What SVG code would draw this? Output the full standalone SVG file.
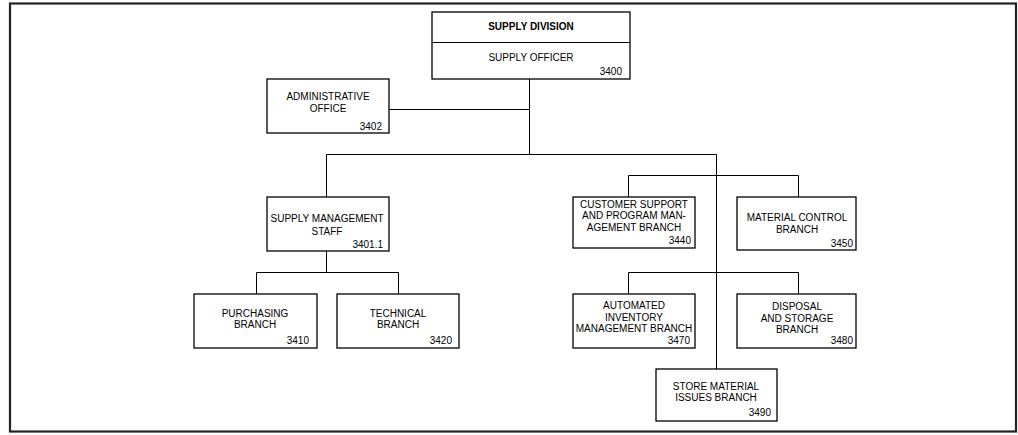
<svg xmlns="http://www.w3.org/2000/svg" width="1018" height="435" viewBox="0 0 1018 435">
<style>
.box{fill:#fff;stroke:#000;stroke-width:1.3}
.ln{fill:none;stroke:#000;stroke-width:1}
text{font-family:"Liberation Sans",Arial,sans-serif;font-size:10px;fill:#000}
.c{text-anchor:middle}
.r{text-anchor:end}
.b{font-weight:bold}
</style>
<rect x="0" y="0" width="1018" height="435" fill="#fff"/>
<rect x="10" y="3.5" width="1006" height="428" fill="none" stroke="#222" stroke-width="2.2"/>
<g id="connectors">
<path class="ln" d="M529.5 79V154.5M389 109.5H529.5M326.5 154.5H716.5M326.5 154.5V197M716.5 154.5V369M628.5 175.5H798.5M628.5 175.5V197M798.5 175.5V197M326.5 251V272.5M256.5 272.5H398.5M256.5 272.5V294M398.5 272.5V294M628.5 272.5H798.5M628.5 272.5V294M798.5 272.5V294"/>
</g>
<g id="supply-division">
<rect class="box" x="432" y="12" width="198" height="67"/>
<line class="ln" x1="432" y1="42.5" x2="630" y2="42.5" stroke-width="1.3"/>
<text class="c b" x="531" y="29.5">SUPPLY DIVISION</text>
<text class="c" x="531" y="60.5">SUPPLY OFFICER</text>
<text class="r" x="622" y="75">3400</text>
</g>
<g id="administrative-office">
<rect class="box" x="267" y="79" width="122" height="54"/>
<text class="c" x="328" y="100">ADMINISTRATIVE</text>
<text class="c" x="328" y="111.7">OFFICE</text>
<text class="r" x="382" y="130">3402</text>
</g>
<g id="supply-management-staff">
<rect class="box" x="267" y="197" width="122" height="54"/>
<text class="c" x="327" y="221.7">SUPPLY MANAGEMENT</text>
<text class="c" x="327" y="235">STAFF</text>
<text class="r" x="383" y="248.3">3401.1</text>
</g>
<g id="purchasing-branch">
<rect class="box" x="194" y="294" width="123" height="54"/>
<text class="c" x="255" y="316.7">PURCHASING</text>
<text class="c" x="255" y="328.3">BRANCH</text>
<text class="r" x="309" y="344.3">3410</text>
</g>
<g id="technical-branch">
<rect class="box" x="337" y="294" width="122" height="54"/>
<text class="c" x="398" y="316.7">TECHNICAL</text>
<text class="c" x="398" y="328.3">BRANCH</text>
<text class="r" x="452" y="344.3">3420</text>
</g>
<g id="customer-support-branch">
<rect class="box" x="573" y="197" width="122" height="51"/>
<text class="c" x="634" y="207.7">CUSTOMER SUPPORT</text>
<text class="c" x="634" y="219.3">AND PROGRAM MAN-</text>
<text class="c" x="634" y="231">AGEMENT BRANCH</text>
<text class="r" x="691" y="244">3440</text>
</g>
<g id="material-control-branch">
<rect class="box" x="737" y="197" width="119" height="53"/>
<text class="c" x="797" y="220.7">MATERIAL CONTROL</text>
<text class="c" x="797" y="232.7">BRANCH</text>
<text class="r" x="853" y="246.7">3450</text>
</g>
<g id="automated-inventory-branch">
<rect class="box" x="573" y="294" width="122" height="54"/>
<text class="c" x="634" y="309.3">AUTOMATED</text>
<text class="c" x="634" y="321">INVENTORY</text>
<text class="c" x="634" y="332.3">MANAGEMENT BRANCH</text>
<text class="r" x="690" y="344">3470</text>
</g>
<g id="disposal-storage-branch">
<rect class="box" x="737" y="294" width="119" height="54"/>
<text class="c" x="797" y="310">DISPOSAL</text>
<text class="c" x="797" y="321.7">AND STORAGE</text>
<text class="c" x="797" y="333.3">BRANCH</text>
<text class="r" x="853" y="344.3">3480</text>
</g>
<g id="store-material-issues-branch">
<rect class="box" x="656" y="369" width="121" height="52"/>
<text class="c" x="716" y="390">STORE MATERIAL</text>
<text class="c" x="716" y="401">ISSUES BRANCH</text>
<text class="r" x="771" y="416">3490</text>
</g>
</svg>
